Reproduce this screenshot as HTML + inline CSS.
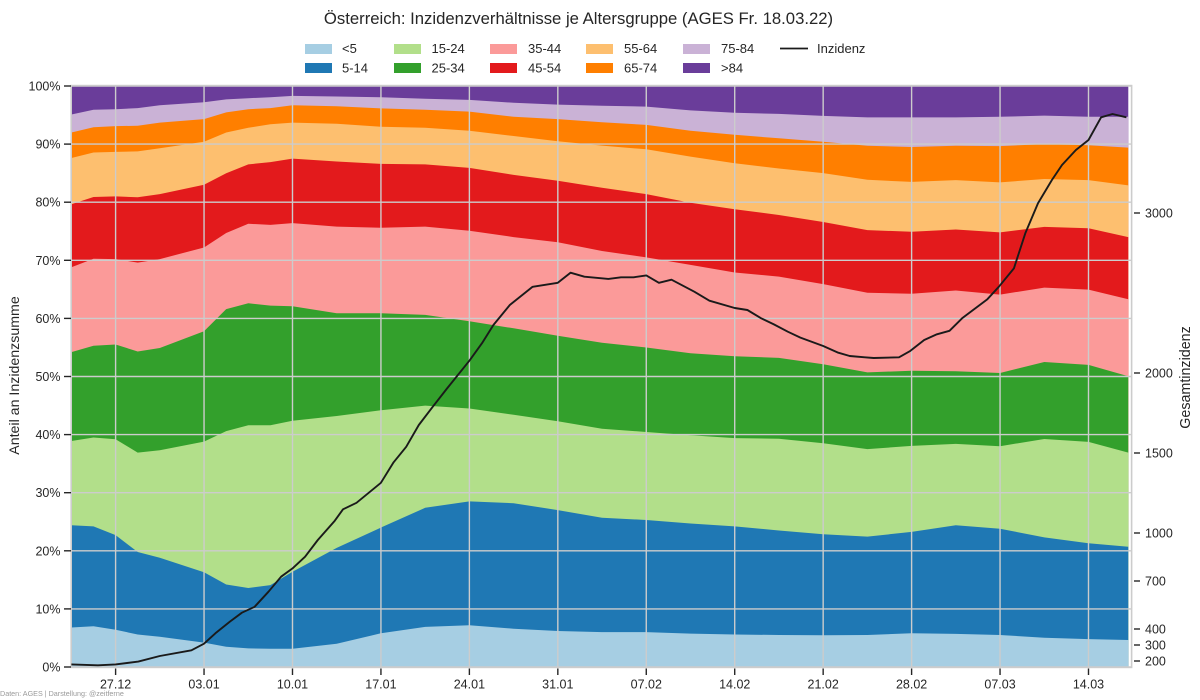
<!DOCTYPE html>
<html lang="de">
<head>
<meta charset="utf-8">
<title>Österreich: Inzidenzverhältnisse je Altersgruppe</title>
<style>
html,body{margin:0;padding:0;background:#fff;}
body{width:1200px;height:700px;overflow:hidden;}
svg{display:block;font-family:"Liberation Sans",sans-serif;fill:#262626;}
</style>
</head>
<body>
<svg id="chart" xmlns="http://www.w3.org/2000/svg" width="1200" height="700" viewBox="0 0 1200 700">
  <rect x="0" y="0" width="1200" height="700" fill="#ffffff"/>
  <text x="578.5" y="24" font-size="16.7" text-anchor="middle">Österreich: Inzidenzverhältnisse je Altersgruppe (AGES Fr. 18.03.22)</text>

  <g font-size="13">
    <rect x="305" y="44" width="27" height="10" fill="#a6cee3"/>
    <text x="342" y="53">&lt;5</text>
    <rect x="305" y="63" width="27" height="10" fill="#1f78b4"/>
    <text x="342" y="72.5">5-14</text>
    <rect x="394" y="44" width="27" height="10" fill="#b2df8a"/>
    <text x="431.5" y="53">15-24</text>
    <rect x="394" y="63" width="27" height="10" fill="#33a02c"/>
    <text x="431.5" y="72.5">25-34</text>
    <rect x="490" y="44" width="27" height="10" fill="#fb9a99"/>
    <text x="528" y="53">35-44</text>
    <rect x="490" y="63" width="27" height="10" fill="#e31a1c"/>
    <text x="528" y="72.5">45-54</text>
    <rect x="586" y="44" width="27" height="10" fill="#fdbf6f"/>
    <text x="624" y="53">55-64</text>
    <rect x="586" y="63" width="27" height="10" fill="#ff7f00"/>
    <text x="624" y="72.5">65-74</text>
    <rect x="683" y="44" width="27" height="10" fill="#cab2d6"/>
    <text x="721" y="53">75-84</text>
    <rect x="683" y="63" width="27" height="10" fill="#6a3d9a"/>
    <text x="721" y="72.5">&gt;84</text>
    <line x1="780" y1="48.5" x2="808" y2="48.5" stroke="#1a1a1a" stroke-width="1.8"/>
    <text x="817" y="53">Inzidenz</text>
  </g>

  <g id="bands"></g>
  <g id="grid"></g>
  <rect x="71.2" y="85.6" width="1060.4" height="581.8" fill="none" stroke="#cccccc" stroke-width="1.6"/>
  <g id="ticks" font-size="12.5"></g>
  <path id="incidence-line" fill="none" stroke="#1a1a1a" stroke-width="1.9" stroke-linejoin="round"/>

  <text transform="translate(19,375.5) rotate(-90)" font-size="14.2" text-anchor="middle">Anteil an Inzidenzsumme</text>
  <text transform="translate(1190,377.5) rotate(-90)" font-size="14.3" text-anchor="middle">Gesamtinzidenz</text>
  <text x="0" y="696" font-size="7.2" style="fill:#9a9a9a">Daten: AGES | Darstellung: @zeitferne</text>
</svg>

<script>
// Days counted from 27.12
const stackDays = [-3.5,-1.75,0,1.75,3.5,7,8.75,10.5,12.25,14,17.5,21,24.5,28,31.5,35,38.5,42,45.5,49,52.5,56,59.5,63,66.5,70,73.5,77,80.15];

// Share of the incidence sum per age group, percent
const shareUnder5 = [6.8,7.0,6.4,5.6,5.2,4.2,3.5,3.2,3.15,3.15,4.0,5.8,6.9,7.2,6.6,6.2,6.0,6.0,5.75,5.6,5.5,5.45,5.5,5.8,5.7,5.5,5.05,4.8,4.65];
const share5to14 = [17.6,17.2,16.3,14.2,13.6,12.1,10.7,10.4,10.95,13.25,16.5,18.2,20.5,21.3,21.6,20.8,19.7,19.3,18.95,18.6,18,17.4,16.95,17.45,18.7,18.3,17.25,16.5,16.05];
const share15to24 = [14.5,15.3,16.5,17.1,18.5,22.5,26.4,28,27.5,26,22.7,20.2,17.6,16,15.2,15.3,15.3,15.15,15.2,15.2,15.8,15.65,15.05,14.8,14,14.2,16.95,17.45,16.2];
const share25to34 = [15.3,15.8,16.3,17.4,17.6,19,21,21,20.6,19.7,17.7,16.7,15.6,15,14.9,14.7,14.8,14.55,14.1,14.1,13.9,13.6,13.2,12.95,12.5,12.6,13.25,13.25,13.15];
const share35to44 = [14.6,14.95,14.7,15.3,15.3,14.4,13.1,13.7,13.9,14.3,14.9,14.7,15.2,15.6,15.7,16.1,15.8,15.5,15.2,14.4,14,13.8,13.7,13.25,13.9,13.5,12.8,12.95,13.25];
const share45to54 = [10.85,10.65,10.8,11.25,11.2,10.8,10.3,10.2,10.8,11.1,11.2,11,10.7,10.8,10.7,10.6,10.9,10.9,10.7,10.9,10.6,10.7,10.8,10.65,10.5,10.7,10.45,10.55,10.7];
const share55to64 = [7.95,7.65,7.65,7.9,7.9,7.4,7,6.3,6.5,6.2,6.5,6.4,6.3,6.4,6.7,6.8,7.25,7.7,7.95,7.9,8,8.4,8.65,8.6,8.5,8.6,8.25,8.3,8.9];
const share65to74 = [4.4,4.35,4.45,4.4,4.4,3.9,3.45,3.2,2.8,3,3,3.15,3.1,3.3,3.3,3.8,4,4.2,4.45,4.9,5.2,5.4,5.85,6,5.9,6.25,6,6,6.5];
const share75to84 = [3.1,3.0,2.9,3.05,3,2.9,2.25,1.9,1.85,1.6,1.7,1.9,1.9,2,2.4,2.5,2.85,3.15,3.5,3.8,4.2,4.45,4.9,5.1,4.9,5.05,4.9,4.9,5.3];
const shareOver84 = [4.9,4.1,4,3.8,3.3,2.8,2.3,2.1,1.95,1.7,1.8,1.95,2.2,2.4,2.9,3.2,3.4,3.55,4.2,4.6,4.8,5.15,5.4,5.4,5.4,5.3,5.1,5.3,5.3];

// Total incidence line
const incidenceDays = [-3.5,-1.4,0,1.8,3.5,6,7,7.9,9.05,10,11,12.1,13.1,14,15,16,17.35,18,19.07,21,22,23,24,25.1,26.2,28,29,29.9,31.2,33,35,36,37.1,39,40,41,42,43,44,45.8,47,49,50,51.1,52.1,53.2,54.2,56,57.2,58.1,59.3,60,62,62.9,64,65,66,67,69,69.9,71.1,72,73,74.1,74.9,76,77,78,78.9,80];
const incidenceValues = [179,173,179,196,231,267,308,373,446,502,539,633,727,779,852,956,1077,1148,1189,1314,1442,1539,1675,1789,1900,2077,2186,2300,2425,2539,2564,2627,2602,2588,2598,2598,2610,2564,2583,2508,2452,2406,2394,2342,2304,2258,2221,2169,2127,2106,2098,2094,2098,2138,2206,2242,2264,2342,2461,2539,2654,2873,3061,3206,3300,3394,3456,3598,3619,3598];

// Axis ticks
const xTickDays = [0,7,14,21,28,35,42,49,56,63,70,77];
const xTickLabels = ["27.12","03.01","10.01","17.01","24.01","31.01","07.02","14.02","21.02","28.02","07.03","14.03"];
const yTickValues = [0,10,20,30,40,50,60,70,80,90,100];
const rightTickValues = [200,300,400,700,1000,1500,2000,3000];

const bandSeries = [shareUnder5,share5to14,share15to24,share25to34,share35to44,share45to54,share55to64,share65to74,share75to84,shareOver84];
const bandColors = ["#a6cee3","#1f78b4","#b2df8a","#33a02c","#fb9a99","#e31a1c","#fdbf6f","#ff7f00","#cab2d6","#6a3d9a"];
const bandNames = ["under-5","5-14","15-24","25-34","35-44","45-54","55-64","65-74","75-84","over-84"];

function xScale(day){ return 115.6 + day * 12.635; }
function yLeft(pct){ return 667 - pct * 5.81; }
function yRight(v){ return 533 - (v - 1000) * 0.16; }

const NS = "http://www.w3.org/2000/svg";
function make(tag, parent, attrs){
  const el = document.createElementNS(NS, tag);
  for (const k in attrs) el.setAttribute(k, attrs[k]);
  parent.appendChild(el);
  return el;
}

const bandsG = document.getElementById("bands");
const gridG = document.getElementById("grid");
const ticksG = document.getElementById("ticks");

// Cumulative stack
const cumulative = [];
bandSeries.forEach(function(series, i){
  cumulative.push(series.map(function(v, j){ return v + (i > 0 ? cumulative[i-1][j] : 0); }));
});

// Paint from the top group downward so neighbouring bands leave no seams
for (let i = bandSeries.length - 1; i >= 0; i--) {
  const first = xScale(stackDays[0]).toFixed(1);
  const last = xScale(stackDays[stackDays.length-1]).toFixed(1);
  let d = "M" + first + " " + yLeft(0).toFixed(1);
  stackDays.forEach(function(day, j){
    d += "L" + xScale(day).toFixed(1) + " " + yLeft(cumulative[i][j]).toFixed(1);
  });
  d += "L" + last + " " + yLeft(0).toFixed(1) + "Z";
  const band = make("path", bandsG, {d: d, fill: bandColors[i]});
  
  
}

// Gridlines
yTickValues.forEach(function(v){
  const line = make("line", gridG, {x1:71.2, x2:1131.6, y1:yLeft(v), y2:yLeft(v), stroke:"#cccccc", "stroke-width":1.4});
  
  
});
xTickDays.forEach(function(day){
  const line = make("line", gridG, {x1:xScale(day), x2:xScale(day), y1:85.6, y2:667.4, stroke:"#cccccc", "stroke-width":1.4});
  
  
});

// Left axis
yTickValues.forEach(function(v){
  const tick = make("line", ticksG, {x1:64, x2:71, y1:yLeft(v), y2:yLeft(v), stroke:"#262626", "stroke-width":1.4});
  
  
  const label = make("text", ticksG, {x:60.5, y:yLeft(v)+4.5, "text-anchor":"end"});
  label.textContent = v + "%";
  
  
});

// Bottom axis
xTickDays.forEach(function(day, i){
  const tick = make("line", ticksG, {x1:xScale(day), x2:xScale(day), y1:668.5, y2:675, stroke:"#262626", "stroke-width":1.4});
  
  
  const label = make("text", ticksG, {x:xScale(day), y:688.5, "text-anchor":"middle"});
  label.textContent = xTickLabels[i];
  
  
});

// Right axis
rightTickValues.forEach(function(v){
  const tick = make("line", ticksG, {x1:1134, x2:1140, y1:yRight(v), y2:yRight(v), stroke:"#262626", "stroke-width":1.4});
  
  
  const label = make("text", ticksG, {x:1145, y:yRight(v)+4.5});
  label.textContent = v;
  
  
});

// Incidence line
document.getElementById("incidence-line").setAttribute("d", incidenceDays.map(function(day, i){
  return (i ? "L" : "M") + xScale(day).toFixed(1) + " " + yRight(incidenceValues[i]).toFixed(1);
}).join(""));
</script>
</body>
</html>
